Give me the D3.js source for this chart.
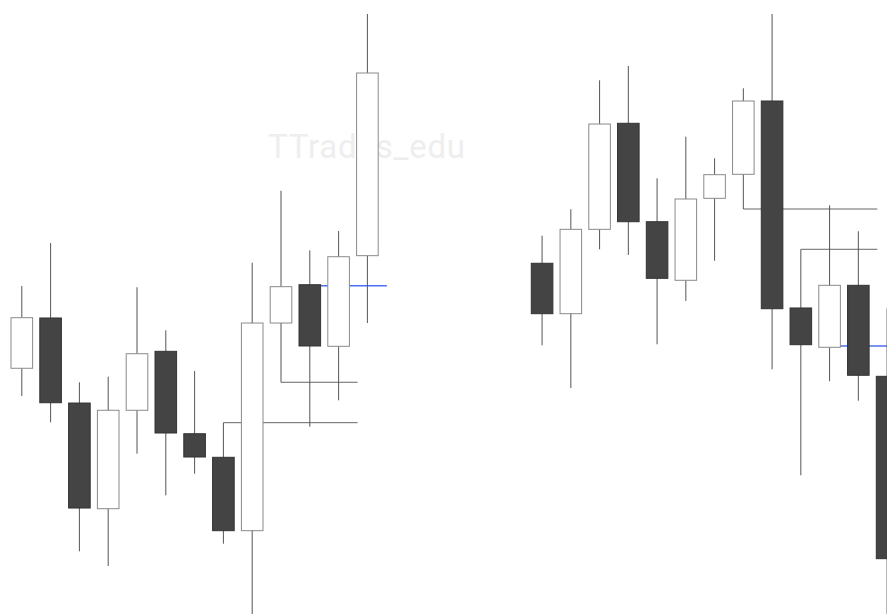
<!DOCTYPE html>
<html>
<head>
<meta charset="utf-8">
<script src="https://cdn.jsdelivr.net/npm/d3@7"></script>
<style>
  body { margin: 0; background: #fff; }
  svg { display: block; }
</style>
</head>
<body>
<div id="chart"></div>
<script>
// left panel candles (price units)
const leftOpen  = [140.02, 148.21, 134.36, 117.15, 133.18, 142.78, 129.36, 125.52, 113.57, 147.39, 153.63, 143.60, 158.36];
const leftHigh  = [153.42, 160.42, 137.74, 138.65, 153.21, 146.21, 139.58, 131.16, 157.21, 168.94, 159.23, 162.38, 197.72];
const leftLow   = [135.50, 131.22, 110.21, 107.82, 126.11, 119.33, 122.85, 111.45, 97.40, 137.74, 130.50, 134.80, 147.39];
const leftClose = [148.26, 134.41, 117.26, 133.18, 142.39, 129.48, 125.57, 113.57, 147.39, 153.31, 143.65, 158.19, 188.11];

// right panel candles
const rightOpen  = [157.12, 148.91, 162.65, 179.92, 163.89, 154.35, 167.70, 171.61, 183.55, 149.84, 143.44, 153.53, 138.71];
const rightHigh  = [161.61, 165.91, 186.92, 189.25, 170.96, 177.74, 174.22, 185.62, 197.72, 159.40, 166.56, 162.33, 149.79];
const rightLow   = [143.76, 136.81, 159.40, 158.47, 143.93, 150.98, 157.54, 165.96, 139.85, 122.59, 137.90, 134.74, 97.40];
const rightClose = [148.91, 162.65, 179.80, 163.89, 154.67, 167.59, 171.55, 183.55, 149.72, 143.86, 153.53, 138.88, 109.01];

// swing levels: candle index it starts from, price
const leftLevelFrom = [7, 9];
const leftLevelPrice = [131.16, 137.74];
const rightLevelFrom = [7, 9];
const rightLevelPrice = [165.96, 159.40];

// blue reference lines
const leftBlueFrom = 10;
const leftBluePrice = 153.47;
const rightBlueFrom = 10;
const rightBluePrice = 143.65;

const width = 887;
const height = 614;

const svg = d3.select('#chart')
  .append('svg')
  .attr('width', width)
  .attr('height', height);

const yScale = d3.scaleLinear().domain([100, 200]).range([height, 0]);

// watermark sits behind the candles
svg.append('text')
  .attr('x', 268)
  .attr('y', 158)
  .attr('textLength', 197)
  .attr('lengthAdjust', 'spacing')
  .style('font-family', 'Roboto, "Liberation Sans", sans-serif')
  .style('font-weight', 400)
  .style('font-size', '33px')
  .style('fill', '#eeeeee')
  .text('TTrades_edu');

function drawPanel(x0, step, opens, highs, lows, closes, levelFrom, levelPrice, blueFrom, bluePrice) {
  const n = opens.length;
  const xScale = d3.scaleBand()
    .domain(d3.range(n))
    .range([x0, x0 + step * (n - 0.25)])
    .paddingInner(0.25)
    .paddingOuter(0);
  const half = xScale.bandwidth() / 2;
  const g = svg.append('g');

  // horizontal levels from a wick out to the last candle
  g.selectAll('.level')
    .data(levelFrom)
    .join('line')
    .attr('class', 'level')
    .attr('x1', (d) => xScale(d) + half)
    .attr('x2', xScale(n - 1) + 1)
    .attr('y1', (d, i) => yScale(levelPrice[i]))
    .attr('y2', (d, i) => yScale(levelPrice[i]))
    .style('stroke', '#666')
    .style('stroke-width', 1);

  // blue line
  g.append('line')
    .attr('x1', xScale(blueFrom) + half)
    .attr('x2', xScale(n - 1) + xScale.bandwidth() + xScale.step() * 0.3)
    .attr('y1', yScale(bluePrice))
    .attr('y2', yScale(bluePrice))
    .style('stroke', '#4d6ff0')
    .style('stroke-width', 1.5);

  const idx = d3.range(n);

  // wicks
  g.selectAll('.wick')
    .data(idx)
    .join('line')
    .attr('class', 'wick')
    .attr('x1', (d) => xScale(d) + half)
    .attr('x2', (d) => xScale(d) + half)
    .attr('y1', (d) => yScale(highs[d]))
    .attr('y2', (d) => yScale(lows[d]))
    .style('stroke', '#555')
    .style('stroke-width', 1);

  // bodies
  g.selectAll('.body')
    .data(idx)
    .join('rect')
    .attr('class', 'body')
    .attr('x', (d) => xScale(d))
    .attr('width', xScale.bandwidth())
    .attr('y', (d) => yScale(Math.max(opens[d], closes[d])))
    .attr('height', (d) => Math.abs(yScale(opens[d]) - yScale(closes[d])))
    .style('fill', (d) => (closes[d] >= opens[d] ? '#ffffff' : '#444444'))
    .style('stroke', (d) => (closes[d] >= opens[d] ? '#8a8a8a' : '#333333'))
    .style('stroke-width', 1);
}

drawPanel(11, 28.8, leftOpen, leftHigh, leftLow, leftClose, leftLevelFrom, leftLevelPrice, leftBlueFrom, leftBluePrice);
drawPanel(531.3, 28.75, rightOpen, rightHigh, rightLow, rightClose, rightLevelFrom, rightLevelPrice, rightBlueFrom, rightBluePrice);
</script>
</body>
</html>
